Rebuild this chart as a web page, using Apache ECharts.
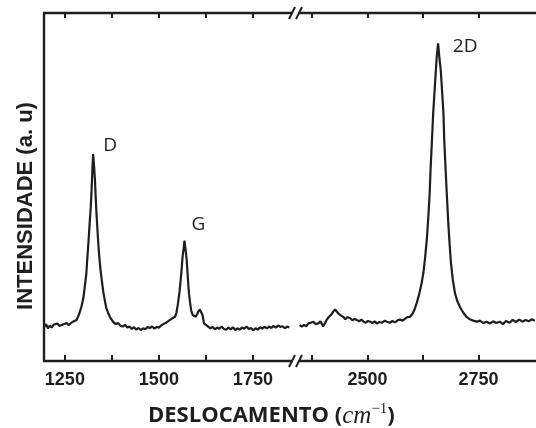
<!DOCTYPE html>
<html><head><meta charset="utf-8">
<script src="https://cdn.jsdelivr.net/npm/echarts@6/dist/echarts.min.js"></script>
<style>html,body{margin:0;padding:0;background:#fff}#c{width:536px;height:428px}</style>
</head><body><div id="c"></div>
<script>
// Raman shift (cm^-1) and intensity (a.u.) — left segment
const leftShift = [1195,1200,1205,1210,1215,1220,1225,1230,1235,1240,1245,1250,1255,1260,1265,1270,1275,1281,1287,1294,1299,1303,1307,1310,1313,1316,1319,1321,1323,1325,1327,1330,1332,1334,1337,1340,1344,1348,1352,1356,1360,1365,1371,1378,1385,1392,1398,1404,1410,1416,1422,1428,1434,1440,1446,1452,1458,1464,1470,1476,1482,1488,1494,1500,1506,1512,1518,1524,1529,1536,1543,1547,1551,1555,1558,1561,1563,1566,1568,1571,1574,1576,1578,1580,1583,1586,1590,1594,1598,1602,1605,1609,1612,1616,1620,1625,1631,1637,1643,1649,1655,1661,1667,1673,1679,1685,1691,1697,1703,1709,1715,1721,1727,1733,1739,1745,1751,1757,1763,1769,1775,1781,1787,1793,1799,1805,1811,1817,1823,1829,1835,1841,1847];
const leftIntensity = [9.8,10.6,9.4,10.2,9.6,10.4,9.9,10.8,10.1,9.7,10.5,10.0,10.9,10.3,10.8,11.2,10.9,11.8,13.2,15.6,18.0,21.4,25.0,30.0,34.5,39.7,44.5,49.1,54.5,59.5,57.0,52.0,47.0,42.5,37.0,31.9,27.0,23.3,20.0,17.5,15.3,13.8,12.4,11.3,10.6,10.9,10.1,9.9,10.4,9.6,9.9,9.2,9.7,9.0,9.5,8.9,9.4,9.1,9.8,9.5,9.9,9.3,9.8,9.6,10.2,10.6,10.9,11.4,11.8,12.3,12.7,14.0,16.7,20.0,23.3,27.0,30.0,32.5,34.6,32.0,29.0,25.5,22.4,19.5,16.7,14.5,13.2,12.8,12.7,13.5,14.2,14.8,15.1,13.2,10.8,10.3,9.9,9.4,9.8,9.1,9.6,9.3,9.9,9.2,9.0,9.6,9.1,9.7,8.9,9.4,9.0,9.6,9.3,9.9,9.2,9.5,8.8,9.4,9.0,9.7,9.3,9.8,9.4,9.9,9.5,10.1,9.6,10.2,9.8,10.0,9.4,9.9,9.6];
// right segment
const rightShift = [2347,2352,2357,2362,2367,2372,2378,2383,2389,2394,2400,2404,2408,2412,2416,2420,2423,2427,2431,2434,2439,2445,2450,2455,2461,2466,2471,2476,2481,2486,2491,2496,2501,2506,2511,2516,2521,2527,2533,2539,2544,2550,2556,2562,2568,2573,2579,2585,2590,2596,2601,2606,2611,2616,2622,2626,2630,2634,2637,2640,2642,2645,2648,2651,2654,2656,2659,2662,2665,2668,2671,2673,2676,2679,2682,2685,2688,2692,2697,2702,2708,2715,2723,2730,2738,2746,2753,2761,2768,2776,2783,2790,2798,2805,2812,2820,2827,2834,2842,2849,2856,2863,2870,2877];
const rightIntensity = [10.3,9.9,10.4,10.0,10.8,11.0,11.3,10.6,10.8,11.4,9.9,10.8,11.8,12.5,12.7,13.6,14.2,14.8,14.3,13.7,13.2,12.7,12.0,12.6,12.3,11.7,12.1,11.8,11.4,11.9,11.3,11.0,11.5,11.3,10.9,11.4,10.8,11.2,11.0,11.6,11.3,11.0,11.5,11.1,11.7,11.9,11.6,12.2,12.6,12.7,13.5,14.8,16.7,19.0,22.4,25.5,30.0,35.5,41.5,48.0,54.9,63.0,71.3,77.5,83.6,87.5,91.3,87.0,83.6,77.5,71.3,63.0,54.9,47.0,39.6,33.5,28.1,23.5,19.5,17.3,15.6,14.0,12.7,12.0,11.6,11.3,11.6,10.9,11.3,10.8,11.4,10.9,11.3,10.6,11.5,11.0,11.8,11.2,11.9,11.3,11.8,11.4,12.0,11.6];
// ticks and labels
const leftTicks = [1250,1375,1500,1625,1750];
const leftLabels = [1250,1500,1750];
const rightTicks = [2375,2500,2625,2750];
const rightLabels = [2500,2750];
// peak annotations
const peakNames = ['D','G','2D'];
const peakShift = [1325,1568,2659];
const peakIntensity = [59.5,34.6,91.3];

const INK = '#1e1e1e';
const chart = echarts.init(document.getElementById('c'), null, {renderer:'canvas'});
const lineW = 2.4;
function bottomAxis(grid, min, max, ticks, labels) {
  return {type:'value', gridIndex:grid, position:'bottom', min, max,
    axisLine:{show:true, onZero:false, lineStyle:{color:INK, width:lineW}},
    axisTick:{show:true, inside:true, length:6, customValues:ticks, lineStyle:{color:INK, width:2}},
    axisLabel:{show:true, customValues:labels, margin:10, color:INK, fontSize:18, fontWeight:'bold',
      fontFamily:'Liberation Sans, Arial, sans-serif', formatter:v=>String(v)},
    splitLine:{show:false}};
}
function topAxis(grid, min, max, ticks) {
  return {type:'value', gridIndex:grid, position:'top', min, max,
    axisLine:{show:true, onZero:false, lineStyle:{color:INK, width:lineW}},
    axisTick:{show:true, inside:true, length:5, customValues:ticks, lineStyle:{color:INK, width:2}},
    axisLabel:{show:false}, splitLine:{show:false}};
}
const offsets = [[17,-8],[14,-16],[27,3]];
function marks(idxs) {
  return idxs.map(i => ({coord:[peakShift[i], peakIntensity[i]], value:peakNames[i],
    label:{offset:offsets[i]}}));
}
const markCommon = {symbol:'circle', symbolSize:1, itemStyle:{color:'rgba(0,0,0,0)'}, silent:true,
  label:{show:true, position:'inside', formatter:p=>p.value, color:INK, fontSize:19, fontFamily:'Open Sans, Noto Sans, sans-serif'}};

chart.setOption({
  animation:false,
  backgroundColor:'#fff',
  grid:[{left:44, top:13, width:248, height:348},{left:300, top:13, width:236, height:348}],
  xAxis:[bottomAxis(0,1194.5,1854,leftTicks,leftLabels), bottomAxis(1,2348,2879.5,rightTicks,rightLabels),
         topAxis(0,1194.5,1854,leftTicks), topAxis(1,2348,2879.5,rightTicks)],
  yAxis:[{type:'value', gridIndex:0, min:0, max:100, axisLine:{show:true, lineStyle:{color:INK, width:lineW}}, axisTick:{show:false}, axisLabel:{show:false}, splitLine:{show:false}},
         {type:'value', gridIndex:1, min:0, max:100, show:false}],
  series:[
    {type:'line', xAxisIndex:0, yAxisIndex:0, showSymbol:false, lineStyle:{color:INK, width:2.2}, data:leftShift.map((x,i)=>[x,leftIntensity[i]]),
     markPoint:Object.assign({data:marks([0,1])}, markCommon)},
    {type:'line', xAxisIndex:1, yAxisIndex:1, showSymbol:false, lineStyle:{color:INK, width:2.2}, data:rightShift.map((x,i)=>[x,rightIntensity[i]]),
     markPoint:Object.assign({data:marks([2])}, markCommon)}
  ],
  graphic:[
    {type:'line', shape:{x1:289,y1:367,x2:295,y2:355}, style:{stroke:INK, lineWidth:2}},
    {type:'line', shape:{x1:296,y1:367,x2:302,y2:355}, style:{stroke:INK, lineWidth:2}},
    {type:'line', shape:{x1:289,y1:19,x2:295,y2:7}, style:{stroke:INK, lineWidth:2}},
    {type:'line', shape:{x1:296,y1:19,x2:302,y2:7}, style:{stroke:INK, lineWidth:2}},
    {type:'text', x:26, y:206, rotation:Math.PI/2, style:{text:'INTENSIDADE (a. u)', align:'center', verticalAlign:'middle',
      font:'bold 22px "Liberation Sans", Arial, sans-serif', fill:INK}},
    {type:'text', x:148, y:416, style:{text:'{a|DESLOCAMENTO (}{m|cm}{s|−1}{a|)}', align:'left', verticalAlign:'middle',
      rich:{a:{fontSize:22, fontWeight:'bold', fontFamily:'Open Sans, sans-serif', fill:INK, lineHeight:28},
            m:{fontSize:25, fontStyle:'italic', fontFamily:'Liberation Serif, DejaVu Serif, serif', fill:INK, lineHeight:28},
            s:{fontSize:15, fontFamily:'Liberation Serif, DejaVu Serif, serif', fill:INK, verticalAlign:'top', lineHeight:15}}}}
  ]
});
</script></body></html>
